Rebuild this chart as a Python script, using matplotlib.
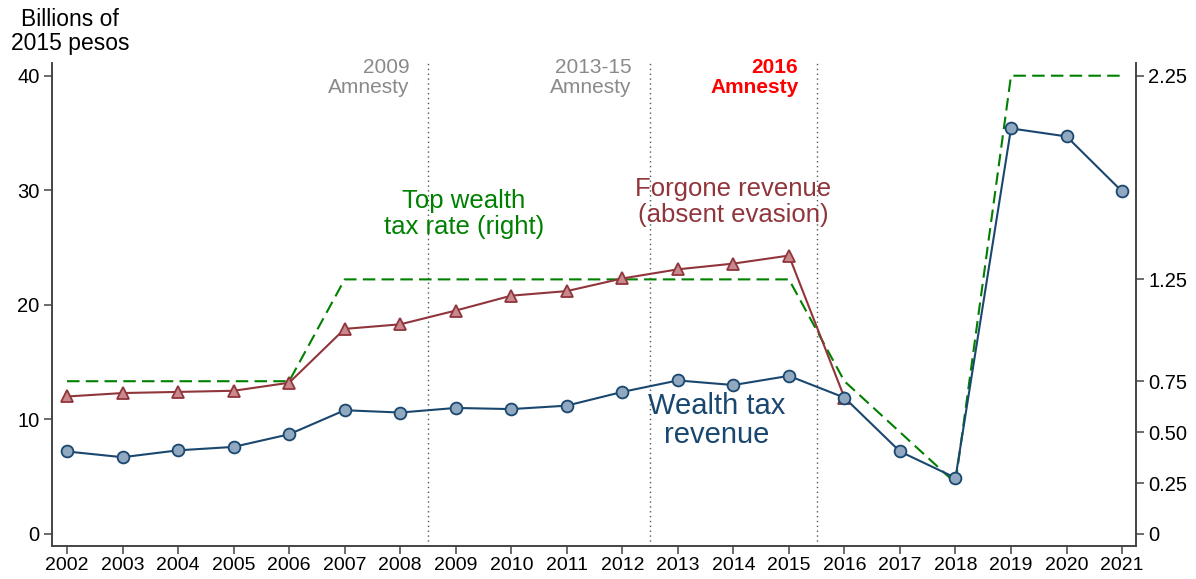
import matplotlib
matplotlib.use('Agg')
import matplotlib.pyplot as plt

plt.rcParams['font.family'] = ['Liberation Sans', 'DejaVu Sans']

years = list(range(2002, 2022))

# wealth tax revenue, billions of 2015 pesos
revenue = [7.2, 6.7, 7.3, 7.6, 8.7, 10.8, 10.6, 11.0, 10.9, 11.2, 12.4, 13.4, 13.0, 13.8,
           11.9, 7.2, 4.9, 35.4, 34.7, 29.9]

# forgone revenue absent evasion (ends in 2016)
forgone_years = list(range(2002, 2017))
forgone = [12.0, 12.3, 12.4, 12.5, 13.2, 17.9, 18.3, 19.5, 20.8, 21.2, 22.3, 23.1, 23.6, 24.3, 11.9]

# top wealth tax rate (%), right axis
top_rate = [0.75, 0.75, 0.75, 0.75, 0.75, 1.25, 1.25, 1.25, 1.25, 1.25, 1.25, 1.25, 1.25, 1.25,
            0.75, 0.50, 0.25, 2.25, 2.25, 2.25]

amnesty_x = [2008.5, 2012.5, 2015.5]
amnesty_labels = ['2009\nAmnesty', '2013-15\nAmnesty', '2016\nAmnesty']

right_ticks = [0, 0.25, 0.50, 0.75, 1.25, 2.25]
right_ticklabels = ['0', '0.25', '0.50', '0.75', '1.25', '2.25']

navy = '#1a476f'
cran = '#90353b'
green = '#008000'

fig = plt.figure(figsize=(11.96, 5.79), dpi=100)
ax = fig.add_axes([0.0435, 0.057, 0.9063, 0.834])

ylo, yhi = -1.05, 41.1
ax.set_ylim(ylo, yhi)
ax.set_xlim(2001.73, 2021.25)

# amnesty markers
for x, lab in zip(amnesty_x, amnesty_labels):
    ax.axvline(x, color='#555555', ls=(0, (1, 2.5)), lw=1.0, zorder=1)
    if lab.startswith('2016'):
        ax.text(x - 0.33, 39.85, lab, ha='right', va='center', color='red',
                fontsize=15, fontweight='bold', linespacing=1.05)
    else:
        ax.text(x - 0.33, 39.85, lab, ha='right', va='center', color='#8a8a8a',
                fontsize=15, linespacing=1.05)

ax2 = ax.twinx()
ax2.set_ylim(ylo * 2.25 / 40, yhi * 2.25 / 40)
ax2.plot(years, top_rate, color=green, ls=(0, (6, 3)), lw=1.5, zorder=2)
ax2.set_yticks(right_ticks)
ax2.set_yticklabels(right_ticklabels)

ax.set_zorder(ax2.get_zorder() + 1)
ax.patch.set_visible(False)

ax.plot(forgone_years, forgone, color=cran, lw=1.5, marker='^', markersize=9,
        markerfacecolor='#c8888c', markeredgecolor=cran, markeredgewidth=1.3, zorder=3)
ax.plot(years, revenue, color=navy, lw=1.5, marker='o', markersize=8.5,
        markerfacecolor='#90a8c0', markeredgecolor=navy, markeredgewidth=1.3, zorder=4)

ax.text(2009.15, 27.9, 'Top wealth\ntax rate (right)', color=green, fontsize=18.5,
        ha='center', va='center', linespacing=1.1)
ax.text(2014.0, 29.0, 'Forgone revenue\n(absent evasion)', color=cran, fontsize=18.5,
        ha='center', va='center', linespacing=1.1)
ax.text(2013.7, 9.9, 'Wealth tax\nrevenue', color=navy, fontsize=21,
        ha='center', va='center', linespacing=1.05)

ax.set_xticks(years)
ax.set_yticks([0, 10, 20, 30, 40])
for a in (ax, ax2):
    a.spines['top'].set_visible(False)
    for s in a.spines.values():
        s.set_color('#444444')
        s.set_linewidth(1.2)
    a.tick_params(labelsize=14.5, length=6, width=1.1, color='#444444', pad=3)
ax.tick_params(axis='x', labelsize=14, pad=2)

fig.text(0.0585, 0.945, 'Billions of\n2015 pesos', fontsize=16.5, ha='center', va='center',
         linespacing=1.05)

plt.savefig('out.png', dpi=100)
plt.close()
